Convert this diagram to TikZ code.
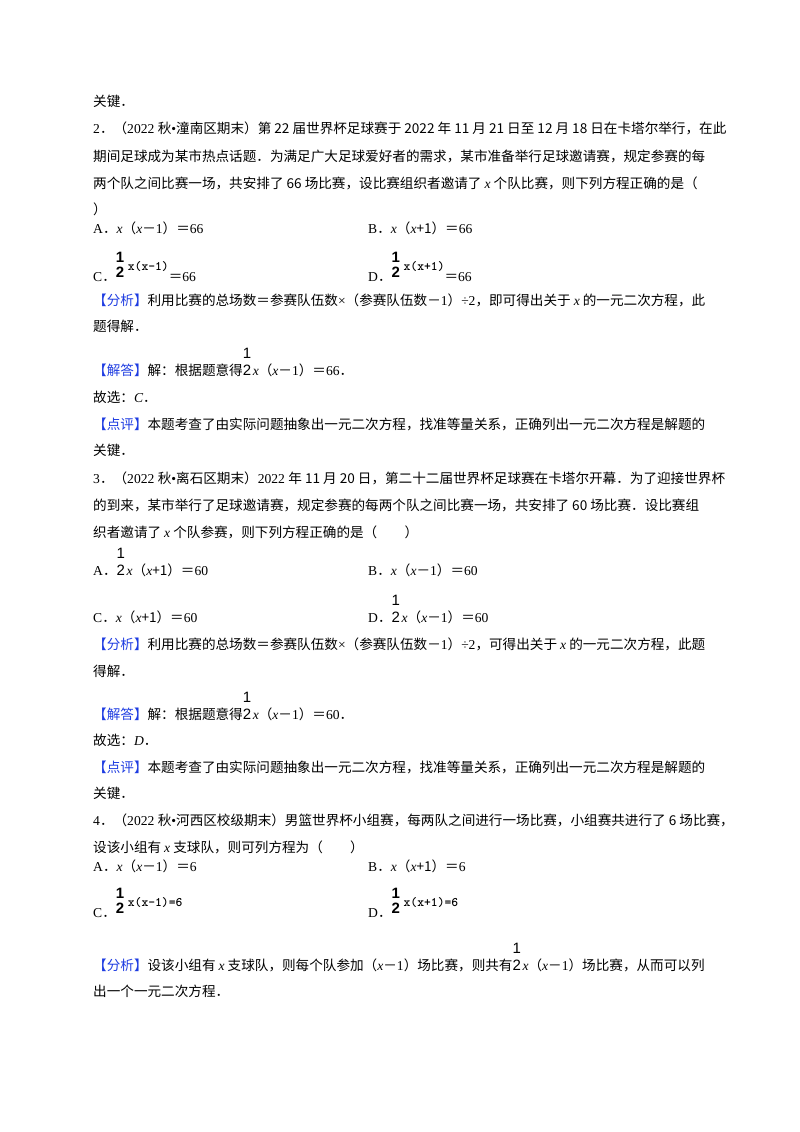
\documentclass[tikz,border=0pt]{standalone}
\usepackage{fontspec}
\setmainfont{Liberation Serif}
\newfontfamily\cjk{Noto Sans CJK SC}
\newfontfamily\lserif{Liberation Serif}
\newfontfamily\lsans{Liberation Sans}
\newXeTeXintercharclass\cjkclass
\count255="3000
\loop \XeTeXcharclass\count255=\cjkclass \advance\count255 1 \ifnum\count255<"3040 \repeat
\count255="4E00
\loop \XeTeXcharclass\count255=\cjkclass \advance\count255 1 \ifnum\count255<"A000 \repeat
\count255="FF00
\loop \XeTeXcharclass\count255=\cjkclass \advance\count255 1 \ifnum\count255<"FFF0 \repeat
\XeTeXinterchartoks 0 \cjkclass = {\cjk}
\XeTeXinterchartoks 4095 \cjkclass = {\cjk}
\XeTeXinterchartoks \cjkclass 0 = {\lserif}
\XeTeXinterchartokenstate=1
\definecolor{kb}{RGB}{30,60,225}
\newcommand{\X}{{\lserif\itshape x}}
\newcommand{\K}[1]{{\color{kb}【#1】}}
\newcommand{\Fr}{\makebox[10pt][l]{\rlap{\raisebox{17pt}{\fontsize{15}{15}\selectfont\lsans 1}}\fontsize{15}{15}\selectfont\lsans 2}}
\newcommand{\Fb}[1]{\makebox[12pt][l]{\rlap{\raisebox{19pt}{\fontsize{15}{15}\selectfont\lsans\bfseries 1}}\raisebox{4pt}{\fontsize{15}{15}\selectfont\lsans\bfseries 2}}\raisebox{11pt}{\fontsize{13}{13}\selectfont\ttfamily\bfseries #1}}
\tikzset{t/.style={anchor=base west,inner sep=0pt,font=\fontsize{13.6}{14}\selectfont}}
\begin{document}
\begin{tikzpicture}[x=1pt,y=-1pt]
\useasboundingbox (0,0) rectangle (800,1132);
\node[t] (l1) at (93,106) {关键．};
\node[t] (l2) at (93,133) {2．（2022 秋•潼南区期末）第 22 届世界杯足球赛于 2022 年 11 月 21 日至 12 月 18 日在卡塔尔举行，在此};
\node[t] (l3) at (93,161) {期间足球成为某市热点话题．为满足广大足球爱好者的需求，某市准备举行足球邀请赛，规定参赛的每};
\node[t] (l4) at (93,188) {两个队之间比赛一场，共安排了 66 场比赛，设比赛组织者邀请了 \X{} 个队比赛，则下列方程正确的是（};
\node[t] (l5) at (93,214) {）};
\node[t] (a2) at (93,233) {A．\X（\X－1）＝66};
\node[t] (b2) at (368,233) {B．\X（\X+1）＝66};
\node[t] (c2) at (93,281) {C．\Fb{x(x-1)}＝66};
\node[t] (d2) at (368,281) {D．\Fb{x(x+1)}＝66};
\node[t] (f2) at (93,305) {\K{分析}利用比赛的总场数＝参赛队伍数×（参赛队伍数－1）÷2，即可得出关于 \X{} 的一元二次方程，此};
\node[t] (f2b) at (93,331) {题得解．};
\node[t] (j2) at (93,375) {\K{解答}解：根据题意得\Fr\X（\X－1）＝66．};
\node[t] (g2) at (93,402) {故选：{\lserif\itshape C}．};
\node[t] (p2) at (93,429) {\K{点评}本题考查了由实际问题抽象出一元二次方程，找准等量关系，正确列出一元二次方程是解题的};
\node[t] (p2b) at (93,455) {关键．};
\node[t] (q3) at (93,483) {3．（2022 秋•离石区期末）2022 年 11 月 20 日，第二十二届世界杯足球赛在卡塔尔开幕．为了迎接世界杯};
\node[t] (q3b) at (93,510) {的到来，某市举行了足球邀请赛，规定参赛的每两个队之间比赛一场，共安排了 60 场比赛．设比赛组};
\node[t] (q3c) at (93,537) {织者邀请了 \X{} 个队参赛，则下列方程正确的是（\qquad）};
\node[t] (a3) at (93,575) {A．\Fr\X（\X+1）＝60};
\node[t] (b3) at (368,575) {B．\X（\X－1）＝60};
\node[t] (c3) at (93,622) {C．\X（\X+1）＝60};
\node[t] (d3) at (368,622) {D．\Fr\X（\X－1）＝60};
\node[t] (f3) at (93,649) {\K{分析}利用比赛的总场数＝参赛队伍数×（参赛队伍数－1）÷2，可得出关于 \X{} 的一元二次方程，此题};
\node[t] (f3b) at (93,676) {得解．};
\node[t] (j3) at (93,719) {\K{解答}解：根据题意得\Fr\X（\X－1）＝60．};
\node[t] (g3) at (93,745) {故选：{\lserif\itshape D}．};
\node[t] (p3) at (93,772) {\K{点评}本题考查了由实际问题抽象出一元二次方程，找准等量关系，正确列出一元二次方程是解题的};
\node[t] (p3b) at (93,798) {关键．};
\node[t] (q4) at (93,825) {4．（2022 秋•河西区校级期末）男篮世界杯小组赛，每两队之间进行一场比赛，小组赛共进行了 6 场比赛，};
\node[t] (q4b) at (93,852) {设该小组有 \X{} 支球队，则可列方程为（\qquad）};
\node[t] (a4) at (93,871) {A．\X（\X－1）＝6};
\node[t] (b4) at (368,871) {B．\X（\X+1）＝6};
\node[t] (c4) at (93,917) {C．\Fb{x(x-1)=6}};
\node[t] (d4) at (368,917) {D．\Fb{x(x+1)=6}};
\node[t] (f4) at (93,970) {\K{分析}设该小组有 \X{} 支球队，则每个队参加（\X－1）场比赛，则共有\Fr\X（\X－1）场比赛，从而可以列};
\node[t] (f4b) at (93,996) {出一个一元二次方程．};
\end{tikzpicture}
\end{document}
